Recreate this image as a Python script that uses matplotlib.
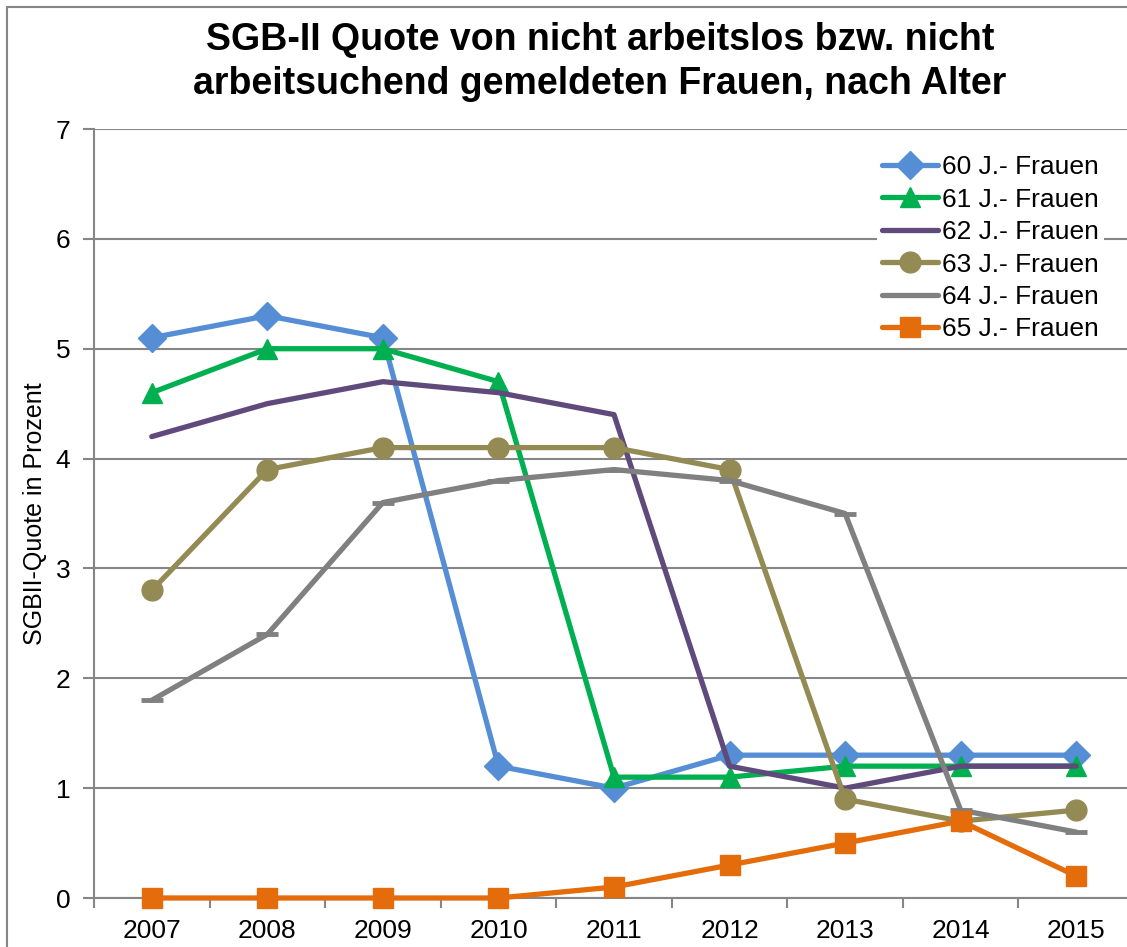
import numpy as np
import matplotlib.pyplot as plt
from matplotlib.patches import Rectangle

plt.rcParams['font.family'] = ['Liberation Sans', 'DejaVu Sans']

years = ["2007", "2008", "2009", "2010", "2011", "2012", "2013", "2014", "2015"]
labels = ["60 J.- Frauen", "61 J.- Frauen", "62 J.- Frauen",
          "63 J.- Frauen", "64 J.- Frauen", "65 J.- Frauen"]
q60 = [5.1, 5.3, 5.1, 1.2, 1.0, 1.3, 1.3, 1.3, 1.3]
q61 = [4.6, 5.0, 5.0, 4.7, 1.1, 1.1, 1.2, 1.2, 1.2]
q62 = [4.2, 4.5, 4.7, 4.6, 4.4, 1.2, 1.0, 1.2, 1.2]
q63 = [2.8, 3.9, 4.1, 4.1, 4.1, 3.9, 0.9, 0.7, 0.8]
q64 = [1.8, 2.4, 3.6, 3.8, 3.9, 3.8, 3.5, 0.8, 0.6]
q65 = [0.0, 0.0, 0.0, 0.0, 0.1, 0.3, 0.5, 0.7, 0.2]

series = [q60, q61, q62, q63, q64, q65]
colors = ["#558ED5", "#00B050", "#604A7B", "#948A54", "#808080", "#E46C0A"]
markers = ["D", "^", None, "o", "_", "s"]
msizes = [14, 15, 0, 15, 16, 14]

fig = plt.figure(figsize=(11.27, 9.47), dpi=100)
fig.patches.append(Rectangle((7 / 1127, -0.1), 1.2, 1 - 7 / 947 + 0.1,
                             transform=fig.transFigure, fill=False,
                             edgecolor="#868686", linewidth=1.5))
ax = fig.add_axes([94 / 1127, 1 - 898 / 947, (1134 - 94) / 1127, (898 - 129) / 947])

x = np.arange(len(years))
for vals, col, mk, ms, lab in zip(series, colors, markers, msizes, labels):
    ax.plot(x, vals, color=col, linewidth=3.8, marker=mk, markersize=ms,
            markeredgewidth=3.5 if mk == "_" else 1, label=lab,
            solid_capstyle="round", zorder=3, clip_on=False)

ax.set_xlim(-0.5, len(years) - 0.5)
ax.set_ylim(0, 7)
ax.set_yticks(range(0, 8))
ax.set_xticks(x)
ax.set_xticklabels(years)
ax.set_xticks(np.arange(-0.5, len(years)), minor=True)
ax.tick_params(axis="x", which="major", length=0, labelsize=19, pad=15)
ax.tick_params(axis="x", which="minor", length=7, width=1.5, color="#868686")
ax.tick_params(axis="y", length=8, width=1.5, color="#868686", labelsize=19, pad=9)
ax.grid(axis="y", color="#868686", linewidth=1.5, zorder=0)
ax.set_axisbelow(True)
for side in ["top", "right"]:
    ax.spines[side].set_visible(False)
for side in ["left", "bottom"]:
    ax.spines[side].set_color("#868686")
    ax.spines[side].set_linewidth(1.5)

ax.set_ylabel("SGBII-Quote in Prozent", fontsize=18, labelpad=6)
fig.suptitle("SGB-II Quote von nicht arbeitslos bzw. nicht\n"
             "arbeitsuchend gemeldeten Frauen, nach Alter",
             fontsize=27, fontweight="bold", x=600 / 1127, y=1 - 22 / 947,
             va="top", linespacing=1.3)

leg = ax.legend(loc="upper right", bbox_to_anchor=(1104 / 1127, 1 - 150 / 947),
                bbox_transform=fig.transFigure, fontsize=19, frameon=True,
                handlelength=2.1, handletextpad=0.15, labelspacing=0.32,
                borderpad=0.2, borderaxespad=0)
leg.get_frame().set_edgecolor("none")
leg.get_frame().set_facecolor("white")
leg.get_frame().set_alpha(1)

fig.savefig("out.png", dpi=100)
